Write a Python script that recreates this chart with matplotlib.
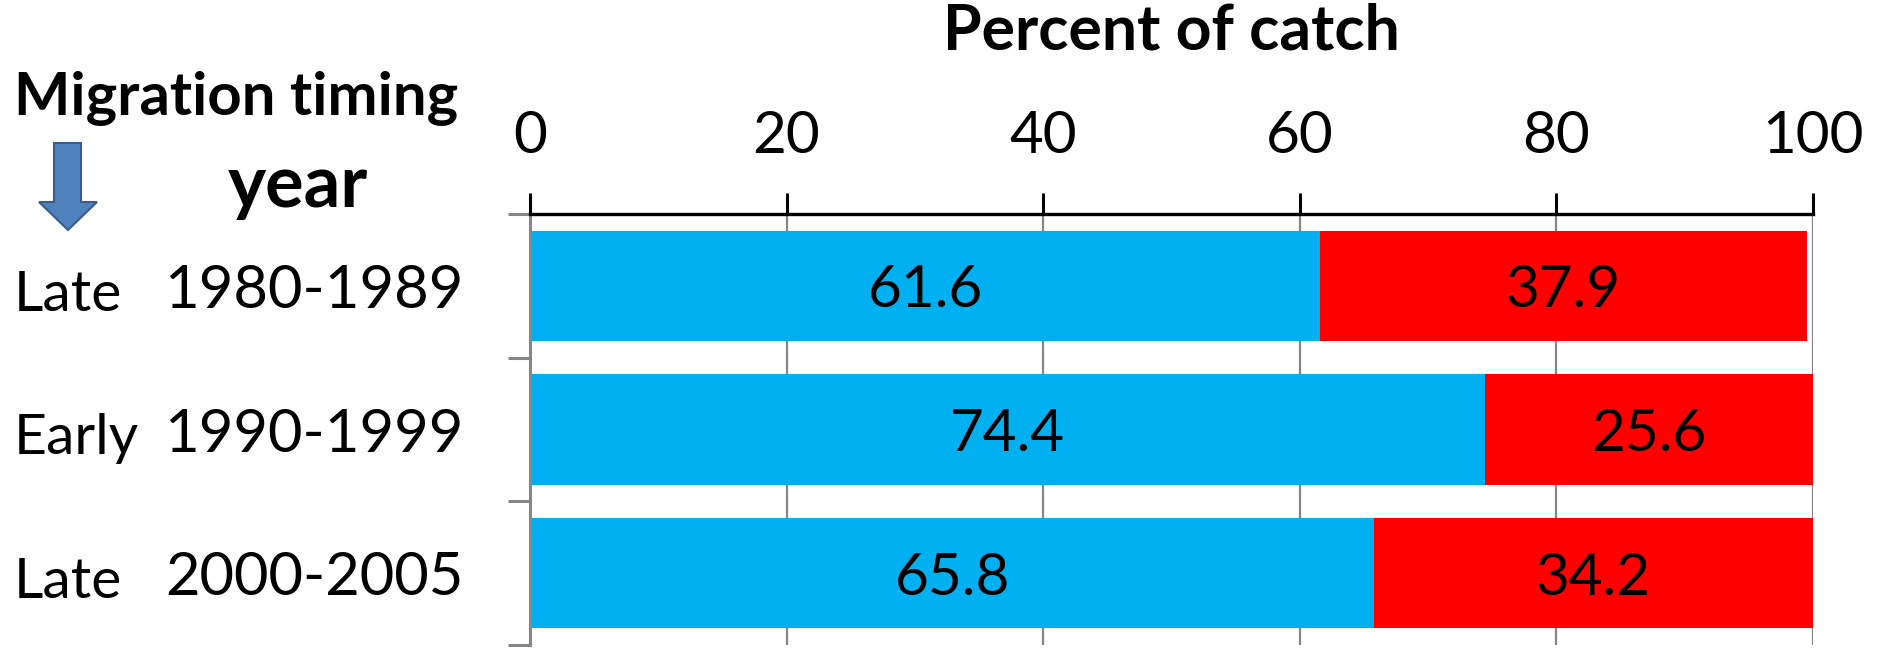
import matplotlib
matplotlib.use("Agg")
import matplotlib.pyplot as plt
from matplotlib.patches import Polygon
import numpy as np

# data
periods = ["1980-1989", "1990-1999", "2000-2005"]
timing = ["Late", "Early", "Late"]
share_blue = [61.6, 74.4, 65.8]
share_red = [37.9, 25.6, 34.2]
x_ticks = [0, 20, 40, 60, 80, 100]

plt.rcParams['font.family'] = ['Lato', 'DejaVu Sans']

W, H = 1882, 648
fig = plt.figure(figsize=(W / 100, H / 100), dpi=100)
ax = fig.add_axes([530 / W, 1 - 645 / H, (1813 - 530) / W, (645 - 214) / H])

ypos = np.arange(len(periods))
bars_b = ax.barh(ypos, share_blue, height=0.766, color="#00B0F0", zorder=2)
bars_r = ax.barh(ypos, share_red, left=share_blue, height=0.766, color="#FF0000", zorder=2)

for rect, v in zip(bars_b, share_blue):
    ax.text(rect.get_x() + rect.get_width() / 2, rect.get_y() + rect.get_height() / 2,
            f"{v:.1f}", ha="center", va="center_baseline", fontsize=42, zorder=3)
for rect, v in zip(bars_r, share_red):
    ax.text(rect.get_x() + rect.get_width() / 2, rect.get_y() + rect.get_height() / 2,
            f"{v:.1f}", ha="center", va="center_baseline", fontsize=42, zorder=3)

ax.set_xlim(0, 100)
ax.set_ylim(len(periods) - 0.5, -0.5)

# x axis on top
ax.xaxis.tick_top()
ax.set_xticks(x_ticks)
ax.set_xticklabels([str(t) for t in x_ticks])
ax.tick_params(axis="x", which="major", direction="out", length=15, width=2.2,
               color="black", labelsize=42, pad=22)
ax.grid(axis="x", color="#868686", linewidth=1.6, zorder=1)
ax.set_axisbelow(True)

# y axis: labels at centers, ticks at category boundaries
ax.set_yticks(ypos)
ax.set_yticklabels(periods)
ax.tick_params(axis="y", which="major", length=0, labelsize=43, pad=48)
ax.set_yticks(np.arange(-0.5, len(periods), 1.0), minor=True)
ax.tick_params(axis="y", which="minor", length=16, width=2.2, color="#868686")

for s in ["right", "bottom"]:
    ax.spines[s].set_visible(False)
ax.spines["top"].set_color("black")
ax.spines["top"].set_linewidth(2.4)
ax.spines["left"].set_color("#868686")
ax.spines["left"].set_linewidth(2.2)

# timing labels, baseline roughly level with the year labels
for i, t in enumerate(timing):
    ax.annotate(t, xy=(-0.402, i), xycoords=ax.get_yaxis_transform(),
                xytext=(0, -3), textcoords="offset points",
                ha="left", va="center_baseline", fontsize=41)

fig.text(1171 / W, 1 - 50 / H, "Percent of catch", ha="center", va="baseline",
         fontsize=45, fontweight="bold")
fig.text(14 / W, 1 - 115 / H, "Migration timing", ha="left", va="baseline",
         fontsize=43, fontweight="bold")
fig.text(298 / W, 1 - 207 / H, "year", ha="center", va="baseline",
         fontsize=52, fontweight="bold")

# down arrow next to the header
arrow_px = [(54, 143), (81, 143), (81, 202), (97, 202), (68, 230), (39, 202), (54, 202)]
arrow = Polygon([(x / W, 1 - y / H) for x, y in arrow_px], closed=True,
                transform=fig.transFigure, facecolor="#4F81BD", edgecolor="#385D8A",
                linewidth=1.5)
fig.patches.append(arrow)

fig.savefig("out.png", dpi=100)
